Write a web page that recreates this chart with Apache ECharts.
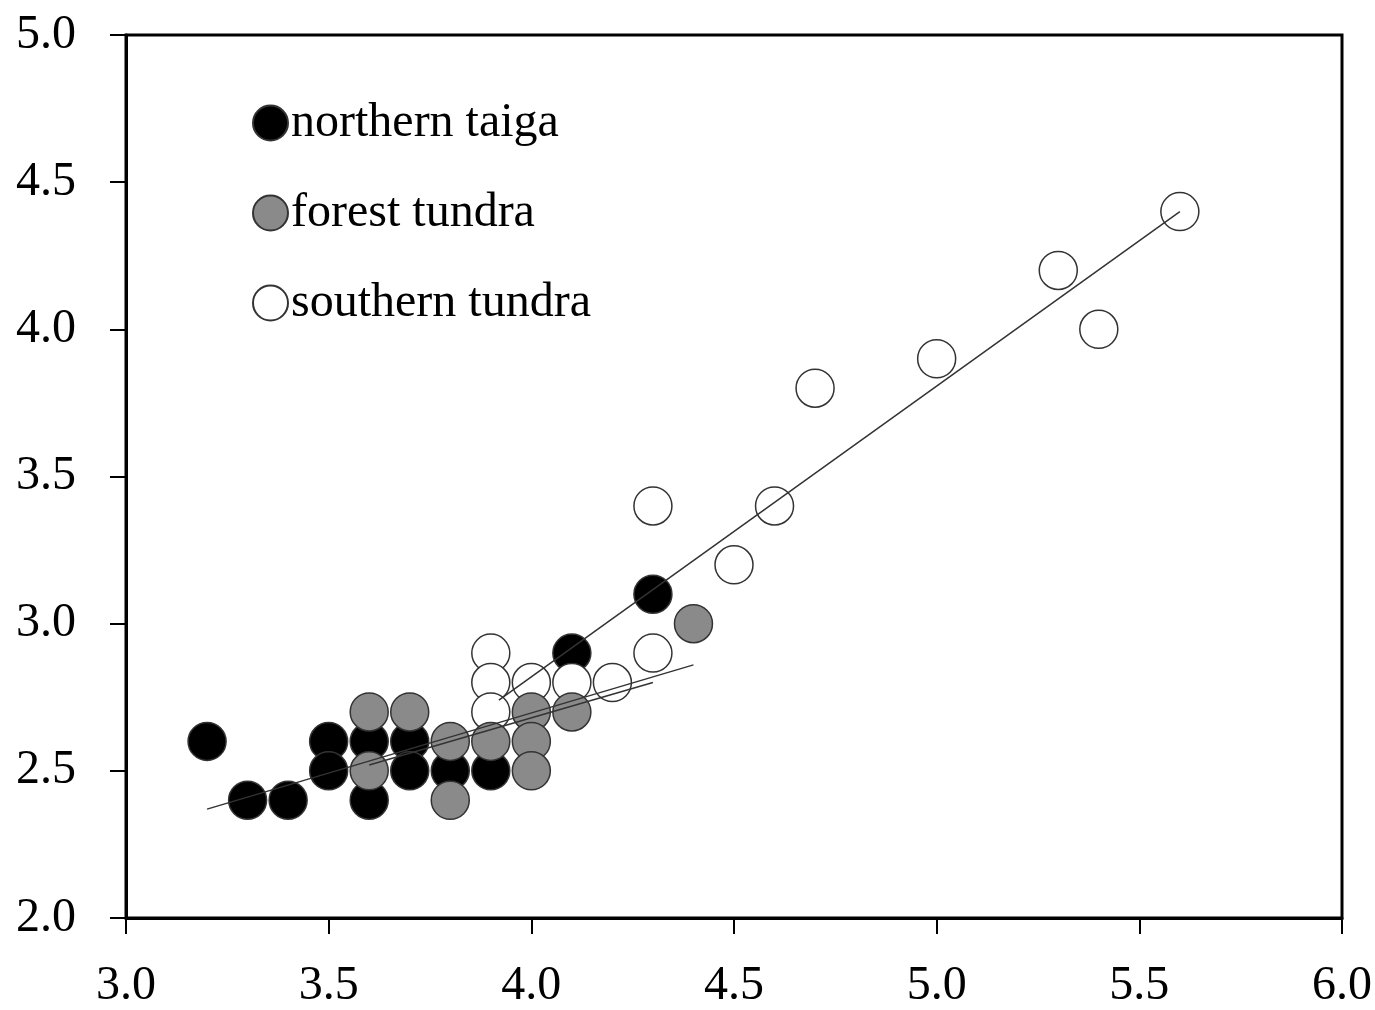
<!DOCTYPE html>
<html>
<head>
<meta charset="utf-8">
<script src="https://cdn.jsdelivr.net/npm/echarts@6/dist/echarts.min.js"></script>
<style>
html,body{margin:0;padding:0;background:#fff;}
#chart{width:1375px;height:1010px;}
</style>
</head>
<body>
<div id="chart"></div>
<script>
// ---- data ----
const seriesNames = ['northern taiga', 'forest tundra', 'southern tundra'];
const northernTaiga = [
  [3.2, 2.6], [3.3, 2.4], [3.4, 2.4], [3.5, 2.6], [3.5, 2.5],
  [3.6, 2.6], [3.6, 2.4], [3.7, 2.6], [3.7, 2.5], [3.8, 2.5],
  [3.9, 2.5], [4.1, 2.9], [4.3, 3.1]
];
const forestTundra = [
  [3.6, 2.7], [3.6, 2.5], [3.7, 2.7], [3.8, 2.6], [3.8, 2.4],
  [3.9, 2.6], [4.0, 2.7], [4.0, 2.6], [4.0, 2.5], [4.1, 2.7], [4.4, 3.0]
];
const southernTundra = [
  [3.9, 2.9], [3.9, 2.8], [3.9, 2.7], [4.0, 2.8], [4.1, 2.8],
  [4.2, 2.8], [4.3, 2.9], [4.3, 3.4], [4.5, 3.2], [4.6, 3.4],
  [4.7, 3.8], [5.0, 3.9], [5.3, 4.2], [5.4, 4.0], [5.6, 4.4]
];
const fitLineLow = [[3.2, 2.37], [4.4, 2.86]];
const fitLineMid = [[3.6, 2.52], [4.3, 2.80]];
const fitLineHigh = [[3.92, 2.74], [5.6, 4.40]];
const xTicks = [3.0, 3.5, 4.0, 4.5, 5.0, 5.5, 6.0];
const yTicks = [2.0, 2.5, 3.0, 3.5, 4.0, 4.5, 5.0];

const FONT = '"Liberation Serif", "Times New Roman", serif';
const chart = echarts.init(document.getElementById('chart'), null, {renderer: 'canvas'});

const pointStyle = (fill) => ({
  color: fill, borderColor: '#333', borderWidth: 1.5, opacity: 1
});
const fitStyle = (data) => ({
  type: 'line', data: data, symbol: 'none', silent: true, z: 10,
  lineStyle: {color: '#333', width: 1.5}, animation: false
});

chart.setOption({
  animation: false,
  backgroundColor: '#fff',
  grid: {
    left: 126, right: 33, top: 35, bottom: 88,
    show: true, borderColor: '#000', borderWidth: 3, backgroundColor: 'transparent'
  },
  legend: {
    orient: 'vertical',
    left: 247, top: 94,
    itemWidth: 35, itemHeight: 35, itemGap: 42,
    data: seriesNames.map(n => ({name: n, icon: 'circle'})),
    textStyle: {fontFamily: FONT, fontSize: 48, color: '#000', padding: [0, 0, 0, -2]},
    selectedMode: false
  },
  xAxis: {
    type: 'value', min: xTicks[0], max: xTicks[xTicks.length - 1], interval: 0.5,
    splitLine: {show: false},
    axisLine: {show: true, onZero: false, lineStyle: {color: '#000', width: 3}},
    axisTick: {show: true, inside: false, length: 16, lineStyle: {color: '#000', width: 2}},
    axisLabel: {fontFamily: FONT, fontSize: 48, color: '#000', margin: 44,
      formatter: v => v.toFixed(1)}
  },
  yAxis: {
    type: 'value', min: yTicks[0], max: yTicks[yTicks.length - 1], interval: 0.5,
    splitLine: {show: false},
    axisLine: {show: true, onZero: false, lineStyle: {color: '#000', width: 3}},
    axisTick: {show: true, inside: false, length: 16, lineStyle: {color: '#000', width: 2}},
    axisLabel: {fontFamily: FONT, fontSize: 48, color: '#000', margin: 50,
      formatter: v => v.toFixed(1)}
  },
  series: [
    {name: seriesNames[0], type: 'scatter', data: northernTaiga, symbolSize: 38, z: 2,
      itemStyle: pointStyle('#000')},
    {name: seriesNames[2], type: 'scatter', data: southernTundra, symbolSize: 38, z: 3,
      itemStyle: pointStyle('#fff')},
    {name: seriesNames[1], type: 'scatter', data: forestTundra, symbolSize: 38, z: 4,
      itemStyle: pointStyle('#8a8a8a')},
    fitStyle(fitLineLow),
    fitStyle(fitLineMid),
    fitStyle(fitLineHigh)
  ]
});
</script>
</body>
</html>
